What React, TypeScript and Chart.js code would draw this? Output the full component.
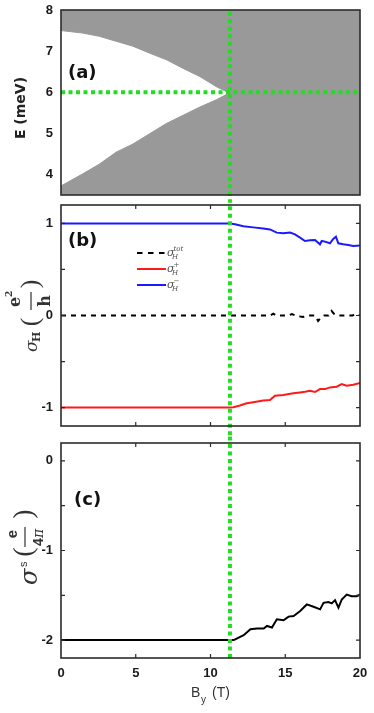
import React, { useEffect, useRef } from 'react';
import { Chart, registerables } from 'chart.js';

Chart.register(...registerables);

// ---------------- data ----------------
const X_TICKS = [0, 5, 10, 15, 20];
const E_TICKS = [4, 5, 6, 7, 8];
const HALL_TICKS = [-1, -0.5, 0, 0.5, 1];
const SPIN_TICKS = [-2, -1.5, -1, -0.5, 0];

const CRITICAL_B = 11.3;
const GAP_CENTER_E = 6;

// gap edges of panel (a)
const GAP_TOP_B = [0, 1.43, 2.56, 3.68, 4.81, 5.93, 7.05, 8.17, 9.29, 10.42, 11.09, 11.25, 20];
const GAP_TOP_E = [7.5, 7.44, 7.36, 7.24, 7.12, 6.95, 6.79, 6.58, 6.38, 6.13, 6.01, 6.0, 6.0];
const GAP_BOTTOM_B = [0, 1.43, 2.56, 3.68, 4.81, 5.93, 7.05, 8.17, 9.29, 10.42, 11.09, 11.25, 20];
const GAP_BOTTOM_E = [3.72, 4.01, 4.25, 4.54, 4.74, 4.99, 5.24, 5.44, 5.64, 5.82, 5.95, 6.0, 6.0];

// panel (b)
const HALL_TOT_B = [0, 11.3, 13.5, 14.0, 14.2, 14.4, 15.2, 15.45, 15.7, 16.0, 16.2, 16.5, 17.0, 17.2, 17.35, 17.6, 17.9, 18.1, 18.25, 18.5, 19.0, 19.5, 19.7, 20];
const HALL_TOT = [0, 0, 0, 0, 0.02, 0, 0, 0.015, 0, -0.01, -0.015, 0, 0, -0.06, -0.03, 0, 0, 0.05, 0.02, 0, 0, 0, 0.02, 0];
const HALL_PLUS_B = [0, 11.3, 11.53, 11.97, 12.42, 12.86, 13.53, 13.98, 14.31, 14.87, 15.54, 15.99, 16.32, 16.66, 16.99, 17.32, 17.66, 17.99, 18.44, 18.77, 19.11, 19.55, 20];
const HALL_PLUS = [-1, -1, -0.996, -0.978, -0.953, -0.942, -0.924, -0.917, -0.871, -0.863, -0.845, -0.835, -0.827, -0.817, -0.831, -0.799, -0.799, -0.781, -0.773, -0.745, -0.763, -0.752, -0.734];
const HALL_MINUS_B = [0, 11.3, 11.64, 12.2, 12.86, 13.53, 13.98, 14.43, 14.87, 15.32, 15.65, 15.99, 16.32, 16.66, 16.99, 17.32, 17.44, 17.66, 17.99, 18.21, 18.39, 18.55, 18.88, 19.22, 19.55, 20];
const HALL_MINUS = [1, 1, 0.99, 0.97, 0.957, 0.946, 0.935, 0.9, 0.892, 0.9, 0.881, 0.845, 0.809, 0.817, 0.82, 0.773, 0.81, 0.802, 0.784, 0.831, 0.856, 0.784, 0.773, 0.766, 0.755, 0.759];

// panel (c)
const SPIN_B = [0, 11.3, 11.56, 11.78, 12.22, 12.67, 13.11, 13.56, 13.78, 14.11, 14.44, 14.89, 15.22, 15.56, 16.0, 16.44, 16.89, 17.33, 17.56, 17.89, 18.11, 18.33, 18.56, 18.78, 19.11, 19.44, 19.78, 20];
const SPIN = [-2, -2, -2.0, -1.98, -1.945, -1.878, -1.871, -1.871, -1.842, -1.86, -1.768, -1.779, -1.738, -1.731, -1.676, -1.602, -1.628, -1.657, -1.584, -1.576, -1.591, -1.554, -1.639, -1.547, -1.492, -1.51, -1.51, -1.492];

// extents of the vertical guide in each panel (runs through the gaps)
const GUIDE_A = [3.3, 8];
const GUIDE_B = [-1.3, 1.3];
const GUIDE_C = [-2.2, 0.3];

const LEGEND_SUPS = ['tot', '+', '\u2212'];

// ---------------- styles ----------------
const SANS = 'Liberation Sans';
const TICK_FONT = { family: SANS, size: 13, weight: 'bold' as const };
const TICK_COLOR = '#1a1a1a';
const FRAME_COLOR = '#2b2b2b';
const TITLE_COLOR = '#333333';
const GREEN = '#22dd22';
const GREEN_DASH = [4, 3.5];
const GRAY = '#999999';
const RED = '#ff1a1a';
const BLUE = '#1a1aff';

const pts = (xs: number[], ys: number[]) => xs.map((x, i) => ({ x, y: ys[i] }));

function makeOptions(p: { yMin: number; yMax: number; yTicks: number[]; padding: any; showX: boolean }) {
  const x: any = {
    type: 'linear',
    min: 0,
    max: 20,
    display: p.showX,
    grid: { display: false, drawTicks: false },
    border: { display: false },
    afterBuildTicks: (s: any) => {
      s.ticks = X_TICKS.map((v) => ({ value: v }));
    },
    afterFit: (s: any) => {
      if (p.showX) s.height = 55;
      s.paddingLeft = 0;
      s.paddingRight = 0;
    },
    ticks: { font: TICK_FONT, color: TICK_COLOR, padding: 8, maxRotation: 0, autoSkip: false },
  };
  return {
    responsive: false,
    animation: false,
    devicePixelRatio: 1,
    layout: { padding: p.padding },
    plugins: { legend: { display: false }, tooltip: { enabled: false } },
    elements: { point: { radius: 0 }, line: { tension: 0 } },
    scales: {
      x,
      y: {
        type: 'linear',
        min: p.yMin,
        max: p.yMax,
        grid: { display: false, drawTicks: false },
        border: { display: false },
        afterBuildTicks: (s: any) => {
          s.ticks = p.yTicks.map((v) => ({ value: v }));
        },
        afterFit: (s: any) => {
          s.width = 61;
          s.paddingTop = 0;
          s.paddingBottom = 0;
        },
        ticks: {
          font: TICK_FONT,
          color: TICK_COLOR,
          padding: 8,
          autoSkip: false,
          callback: (v: any) => (Math.abs(Number(v) % 1) < 1e-9 ? String(v) : ''),
        },
      },
    },
  };
}

function framePlugin(innerTicks: boolean) {
  return {
    id: 'frame',
    afterDatasetsDraw(chart: any) {
      const { ctx, chartArea: a, scales } = chart;
      ctx.save();
      ctx.strokeStyle = FRAME_COLOR;
      if (innerTicks) {
        const L = 4;
        ctx.lineWidth = 1.2;
        ctx.beginPath();
        for (const t of scales.y.ticks) {
          const v = t.value;
          if (v <= scales.y.min || v >= scales.y.max) continue;
          const py = scales.y.getPixelForValue(v);
          ctx.moveTo(a.left, py); ctx.lineTo(a.left + L, py);
          ctx.moveTo(a.right, py); ctx.lineTo(a.right - L, py);
        }
        for (const v of X_TICKS) {
          if (v <= 0 || v >= 20) continue;
          const px = scales.x.getPixelForValue(v);
          ctx.moveTo(px, a.top); ctx.lineTo(px, a.top + L);
          ctx.moveTo(px, a.bottom); ctx.lineTo(px, a.bottom - L);
        }
        ctx.stroke();
      }
      ctx.lineWidth = 1.6;
      ctx.strokeRect(a.left, a.top, a.right - a.left, a.bottom - a.top);
      ctx.restore();
    },
  };
}

type Part = { t: string; f: string; x: number; y: number; c?: boolean };
function rotLabel(ctx: CanvasRenderingContext2D, ax: number, ay: number, parts: Part[], bar?: { x0: number; x1: number; y: number }) {
  ctx.save();
  ctx.translate(ax, ay);
  ctx.rotate(-Math.PI / 2);
  ctx.fillStyle = TITLE_COLOR;
  ctx.textBaseline = 'alphabetic';
  for (const p of parts) {
    ctx.font = p.f;
    ctx.textAlign = p.c ? 'center' : 'left';
    ctx.fillText(p.t, p.x, p.y);
  }
  if (bar) ctx.fillRect(bar.x0, bar.y - 0.6, bar.x1 - bar.x0, 1.2);
  ctx.restore();
}

function textPlugin(draw: (ctx: CanvasRenderingContext2D) => void) {
  return {
    id: 'texts',
    afterDraw(chart: any) {
      const ctx = chart.ctx as CanvasRenderingContext2D;
      ctx.save();
      draw(ctx);
      ctx.restore();
    },
  };
}

function panelTag(ctx: CanvasRenderingContext2D, t: string, x: number, y: number) {
  ctx.font = 'bold 18px "DejaVu Sans"';
  ctx.fillStyle = '#111';
  ctx.textAlign = 'left';
  ctx.textBaseline = 'alphabetic';
  ctx.fillText(t, x, y);
}

const guide = (ys: number[]) => ({
  data: pts([CRITICAL_B, CRITICAL_B], ys),
  borderColor: GREEN,
  borderWidth: 4,
  borderDash: GREEN_DASH,
  fill: false,
  clip: false,
  order: 0,
});

function buildA() {
  return {
    type: 'line',
    data: {
      datasets: [
        guide(GUIDE_A),
        {
          data: pts([0, 20], [GAP_CENTER_E, GAP_CENTER_E]),
          borderColor: GREEN,
          borderWidth: 4,
          borderDash: GREEN_DASH,
          fill: false,
          order: 0,
        },
        {
          data: pts(GAP_TOP_B, GAP_TOP_E),
          borderColor: GRAY,
          borderWidth: 1,
          backgroundColor: GRAY,
          fill: 'end',
          order: 5,
        },
        {
          data: pts(GAP_BOTTOM_B, GAP_BOTTOM_E),
          borderColor: GRAY,
          borderWidth: 1,
          backgroundColor: GRAY,
          fill: 'start',
          order: 5,
        },
      ],
    },
    options: makeOptions({ yMin: 3.5, yMax: 8, yTicks: E_TICKS, padding: { top: 10, bottom: 5, left: 0, right: 14 }, showX: false }),
    plugins: [
      framePlugin(false),
      textPlugin((ctx) => {
        ctx.save();
        ctx.translate(21, 108);
        ctx.rotate(-Math.PI / 2);
        ctx.font = 'bold 14px "DejaVu Sans"';
        ctx.fillStyle = '#222';
        ctx.textAlign = 'center';
        ctx.textBaseline = 'middle';
        ctx.fillText('E (meV)', 0, 0);
        ctx.restore();
        panelTag(ctx, '(a)', 68, 78);
      }),
    ],
  };
}

function buildB() {
  return {
    type: 'line',
    data: {
      datasets: [
        guide(GUIDE_B),
        { data: pts(HALL_TOT_B, HALL_TOT), borderColor: '#000', borderWidth: 2, borderDash: [5, 5], fill: false, order: 1 },
        { data: pts(HALL_PLUS_B, HALL_PLUS), borderColor: RED, borderWidth: 2, fill: false, order: 1 },
        { data: pts(HALL_MINUS_B, HALL_MINUS), borderColor: BLUE, borderWidth: 2, fill: false, order: 1 },
      ],
    },
    options: makeOptions({ yMin: -1.2, yMax: 1.2, yTicks: HALL_TICKS, padding: { top: 5, bottom: 9, left: 0, right: 14 }, showX: false }),
    plugins: [
      framePlugin(true),
      textPlugin((ctx) => {
        rotLabel(
          ctx,
          37,
          152,
          [
            { t: '\u03c3', f: 'italic 17px "DejaVu Serif"', x: 0, y: 0 },
            { t: 'H', f: 'bold 11px "DejaVu Serif"', x: 10, y: 3 },
            { t: '(', f: '26px "Liberation Serif"', x: 30, y: 0.5, c: true },
            { t: 'e', f: 'bold 16px "DejaVu Serif"', x: 50, y: -17, c: true },
            { t: '2', f: 'bold 9px "DejaVu Serif"', x: 55, y: -25 },
            { t: 'h', f: 'bold 16px "DejaVu Serif"', x: 51, y: 13, c: true },
            { t: ')', f: '26px "Liberation Serif"', x: 68, y: 0.5, c: true },
          ],
          { x0: 42, x1: 60, y: -6 },
        );
        panelTag(ctx, '(b)', 68, 46);
        // legend
        const colors = ['#000', RED, BLUE];
        const dashes = [[5.5, 5.5], [], []];
        const rows = [53, 69, 85];
        LEGEND_SUPS.forEach((sup, i) => {
          const y = rows[i];
          ctx.save();
          ctx.strokeStyle = colors[i];
          ctx.lineWidth = 2;
          ctx.setLineDash(dashes[i]);
          ctx.beginPath();
          ctx.moveTo(137, y);
          ctx.lineTo(166, y);
          ctx.stroke();
          ctx.restore();
          ctx.fillStyle = '#555';
          ctx.textAlign = 'left';
          ctx.textBaseline = 'alphabetic';
          ctx.font = 'italic 11px "DejaVu Serif"';
          ctx.fillText('\u03c3', 167, y + 3);
          ctx.font = 'italic 7px "DejaVu Serif"';
          ctx.fillText('H', 172, y + 6);
          ctx.fillText(sup, 173.5, y - 2);
        });
      }),
    ],
  };
}

function buildC() {
  return {
    type: 'line',
    data: {
      datasets: [
        guide(GUIDE_C),
        { data: pts(SPIN_B, SPIN), borderColor: '#000', borderWidth: 2, fill: false, order: 1 },
      ],
    },
    options: makeOptions({ yMin: -2.2, yMax: 0.2, yTicks: SPIN_TICKS, padding: { top: 8, bottom: 0, left: 0, right: 14 }, showX: true }),
    plugins: [
      framePlugin(true),
      textPlugin((ctx) => {
        rotLabel(
          ctx,
          37,
          150,
          [
            { t: '\u03c3', f: 'italic 24px "DejaVu Serif"', x: 0, y: 0 },
            { t: 's', f: '11px "Liberation Sans"', x: 18, y: -10 },
            { t: '(', f: '28px "Liberation Serif"', x: 33, y: -5.5, c: true },
            { t: 'e', f: 'bold 15px "Liberation Sans"', x: 51, y: -20, c: true },
            { t: '4', f: 'bold 14px "Liberation Sans"', x: 39, y: 6 },
            { t: '\u03c0', f: 'italic 14px "DejaVu Serif"', x: 47, y: 6 },
            { t: ')', f: '28px "Liberation Serif"', x: 71, y: -5.5, c: true },
          ],
          { x0: 38, x1: 58, y: -12 },
        );
        panelTag(ctx, '(c)', 74, 70);
        ctx.fillStyle = TITLE_COLOR;
        ctx.textAlign = 'left';
        ctx.textBaseline = 'alphabetic';
        ctx.font = '14px "Liberation Sans"';
        ctx.fillText('B', 191, 262);
        ctx.fillText('(T)', 212, 262);
        ctx.font = '10px "Liberation Sans"';
        ctx.fillText('y', 201, 268);
      }),
    ],
  };
}

function Panel({ height, build }: { height: number; build: () => any }) {
  const ref = useRef<HTMLCanvasElement>(null);
  useEffect(() => {
    const chart = new Chart(ref.current as HTMLCanvasElement, build());
    return () => chart.destroy();
  }, []);
  return <canvas ref={ref} width={374} height={height} style={{ display: 'block', width: 374, height }} />;
}

export default function App() {
  return (
    <div style={{ position: 'absolute', left: 0, top: 0, width: 374, height: 713, background: '#fff' }}>
      <Panel height={200} build={buildA} />
      <Panel height={235} build={buildB} />
      <Panel height={278} build={buildC} />
    </div>
  );
}
